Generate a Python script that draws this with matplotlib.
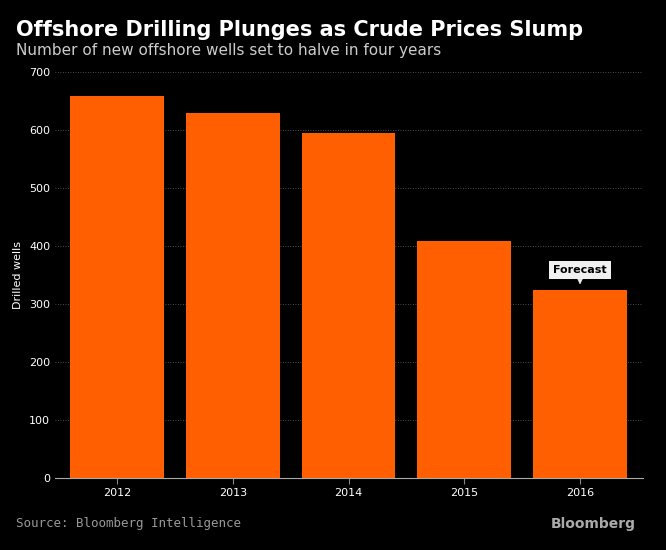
import matplotlib.pyplot as plt

years = ['2012', '2013', '2014', '2015', '2016']
wells = [658, 629, 595, 409, 324]
yticks = [0, 100, 200, 300, 400, 500, 600, 700]

fig = plt.figure(figsize=(6.66, 5.5), dpi=100, facecolor='black')
ax = fig.add_axes([55/666, 72/550, 588/666, 406/550], facecolor='black')

x = range(len(years))
ax.bar(x, wells, width=0.81, color='#ff5f00', zorder=2)
ax.set_xlim(-0.536, 4.544)
ax.set_ylim(0, 700)
ax.set_xticks(list(x))
ax.set_xticklabels(years)
ax.set_yticks(yticks)
ax.tick_params(colors='white', labelsize=8, length=0)
ax.tick_params(axis='x', length=4, color='#888888')
for t in yticks[1:]:
    ax.axhline(t, color='#666666', lw=0.6, ls=(0, (1, 2)), zorder=1)
for s in ['top', 'right', 'left']:
    ax.spines[s].set_visible(False)
ax.spines['bottom'].set_color('#aaaaaa')
ax.set_ylabel('Drilled wells', color='white', fontsize=8)

ax.annotate('Forecast', xy=(4, wells[4] + 5), xytext=(4, wells[4] + 35),
            ha='center', va='center', fontsize=8, fontweight='bold', color='black',
            bbox=dict(boxstyle='square,pad=0.35', fc='#f0f0f0', ec='none'),
            arrowprops=dict(arrowstyle='-|>', color='#f0f0f0', lw=0.5))

fig.text(16/666, 1 - 30/550, 'Offshore Drilling Plunges as Crude Prices Slump',
         color='white', fontsize=15, fontweight='bold', va='center')
fig.text(16/666, 1 - 51/550, 'Number of new offshore wells set to halve in four years',
         color='#cccccc', fontsize=11, va='center')
fig.text(16/666, 1 - 524/550, 'Source: Bloomberg Intelligence',
         color='#999999', fontsize=9, va='center', family='DejaVu Sans Mono')
fig.text(636/666, 1 - 524/550, 'Bloomberg', color='#aaaaaa', fontsize=10,
         fontweight='bold', va='center', ha='right')

fig.savefig('out.png', dpi=100, facecolor='black')
